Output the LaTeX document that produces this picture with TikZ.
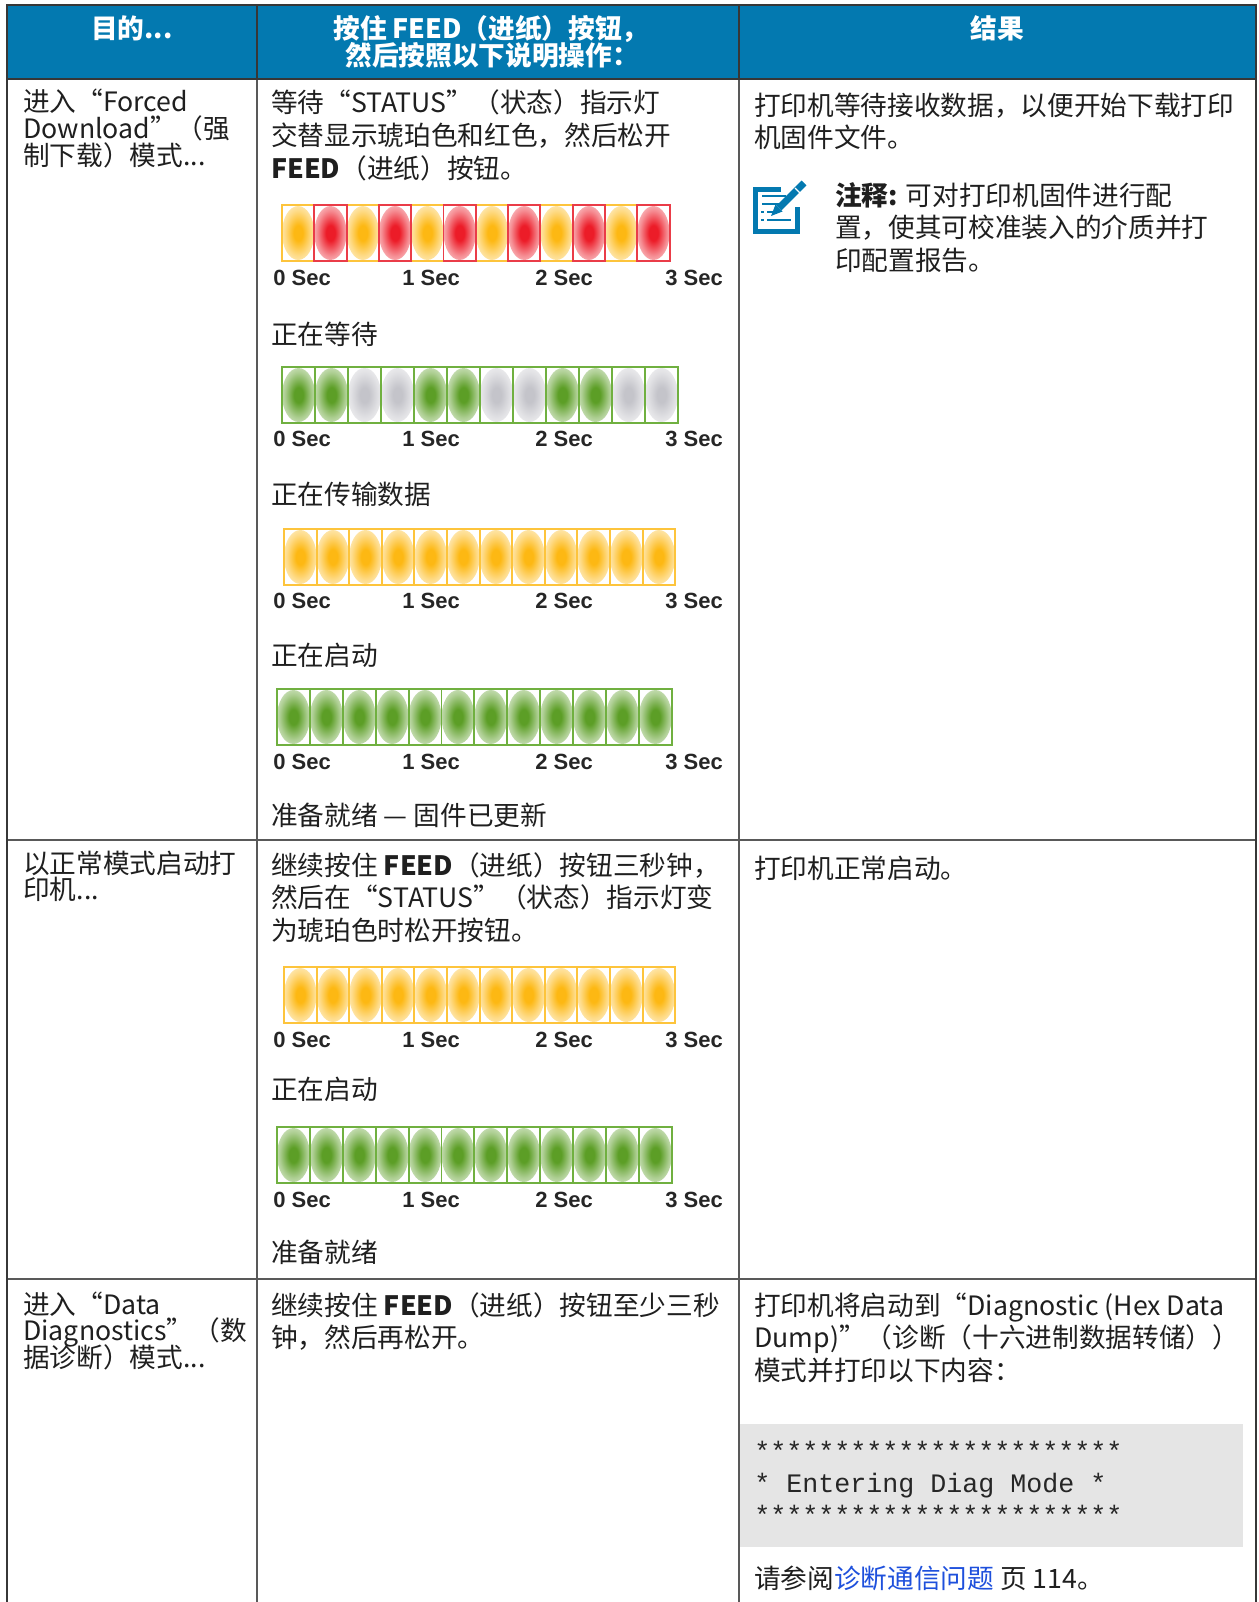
\documentclass[tikz,border=0pt]{standalone}
\usepackage{fontspec}
\setmainfont{Noto Sans CJK SC}
\newfontfamily\secfont{Liberation Sans}
\newfontfamily\codefont{Liberation Mono}
\newcommand{\tdots}{...}
\definecolor{hdrblue}{RGB}{3,121,176}
\definecolor{ledamber}{RGB}{253,184,19}
\definecolor{ledred}{RGB}{236,28,40}
\definecolor{ledgreen}{RGB}{92,158,38}
\definecolor{ledgray}{RGB}{196,196,202}
\definecolor{amberline}{RGB}{253,196,60}
\definecolor{redline}{RGB}{234,60,72}
\definecolor{greenline}{RGB}{112,176,64}
\definecolor{codegray}{RGB}{229,229,229}
\definecolor{linkblue}{RGB}{30,80,220}
\definecolor{ruleline}{RGB}{55,55,55}
\colorlet{ledc}{ledamber}
\pgfdeclareradialshading[ledc]{ledglow}{\pgfpoint{0bp}{0bp}}{color(0bp)=(ledc);color(7bp)=(ledc);color(21bp)=(ledc!50!white);color(39bp)=(white);color(50bp)=(white)}
\tikzset{
  txt/.style={anchor=base west,inner sep=0pt,text=black!88,font=\fontsize{20}{24}\selectfont},
  head/.style={anchor=base,inner sep=0pt,text=white,font=\fontsize{20}{24}\selectfont\bfseries},
  secs/.style={anchor=base west,inner sep=0pt,text=black!85,font=\secfont\fontsize{16.5}{20}\selectfont\bfseries},
  code/.style={anchor=base west,inner sep=0pt,text=black!85,font=\codefont\fontsize{20}{24}\selectfont},
}
\begin{document}
\begin{tikzpicture}[x=0.75pt,y=-0.75pt]
  \useasboundingbox (0,0) rectangle (1258,1602);
  \def\ledrow(#1,#2)[#3]#4{%
    \foreach \g/\b [count=\i from 0] in {#4}{
      \colorlet{ledc}{\g}
      \shade[shading=ledglow] ({#1+(\i+0.5)*#3},#2+28) ellipse ({0.5*#3} and 27);
    }
    \foreach \g/\b [count=\i from 0] in {#4}{
      \ifodd\i\else\draw[\b,line width=1.4pt] ({#1+\i*#3},#2) rectangle +(#3,56);\fi
    }
    \foreach \g/\b [count=\i from 0] in {#4}{
      \ifodd\i\draw[\b,line width=1.4pt] ({#1+\i*#3},#2) rectangle +(#3,56);\fi
    }
  }
  \def\secrow(#1)[#2]{%
    \foreach \s/\x in {0/273,1/402,2/535,3/665}
      \node[secs] (#2-\s) at (\x,#1) {\s\ Sec};
  }
  \def\celltext(#1,#2,#3)[#4]#5{%
    \foreach \t [count=\k from 0] in {#5}
      \node[txt] (#4-\k) at (#1,{#2+\k*#3}) {\t};
  }

  % table
  \fill[hdrblue] (7,5) rectangle (1256,79);
  \fill[codegray] (740,1424) rectangle (1243,1547);
  \draw[gray!70!black,line width=1.1pt] (7,840) -- (1256,840) (7,1279) -- (1256,1279)
    (257,79) -- (257,1602) (739,79) -- (739,1602);
  \draw[ruleline,line width=1.3pt] (257,5) -- (257,79) (739,5) -- (739,79) (7,79) -- (1256,79);
  \draw[ruleline,line width=1.6pt] (7,1602) -- (7,5) -- (1256,5) -- (1256,1602);

  \node[head] (goal) at (132,39) {目的\tdots};
  \node[head] (act1) at (491,39) {按住 FEED（进纸）按钮，};
  \node[head] (act2) at (492,66) {然后按照以下说明操作：};
  \node[head] (res) at (997,39) {结果};

  % forced download
  \celltext(23,112,26.5)[goalA]{进入“Forced, Download”（强, 制下载）模式\tdots}
  \celltext(271,113,32.5)[actA]{等待“STATUS”（状态）指示灯, 交替显示琥珀色和红色，然后松开, {\textbf{FEED}（进纸）按钮。}}
  \ledrow(282,205)[32.3]{ledamber/amberline,ledred/redline,ledamber/amberline,ledred/redline,
    ledamber/amberline,ledred/redline,ledamber/amberline,ledred/redline,
    ledamber/amberline,ledred/redline,ledamber/amberline,ledred/redline}
  \secrow(285)[tA]
  \node[txt] (waitA) at (271,344) {正在等待};
  \ledrow(282,367)[33]{ledgreen/greenline,ledgreen/greenline,ledgray/greenline,ledgray/greenline,
    ledgreen/greenline,ledgreen/greenline,ledgray/greenline,ledgray/greenline,
    ledgreen/greenline,ledgreen/greenline,ledgray/greenline,ledgray/greenline}
  \secrow(446)[tB]
  \node[txt] (xferA) at (271,504) {正在传输数据};
  \ledrow(284,529)[32.6]{ledamber/amberline,ledamber/amberline,ledamber/amberline,ledamber/amberline,
    ledamber/amberline,ledamber/amberline,ledamber/amberline,ledamber/amberline,
    ledamber/amberline,ledamber/amberline,ledamber/amberline,ledamber/amberline}
  \secrow(608)[tC]
  \node[txt] (bootA) at (271,665) {正在启动};
  \ledrow(277,689)[32.9]{ledgreen/greenline,ledgreen/greenline,ledgreen/greenline,ledgreen/greenline,
    ledgreen/greenline,ledgreen/greenline,ledgreen/greenline,ledgreen/greenline,
    ledgreen/greenline,ledgreen/greenline,ledgreen/greenline,ledgreen/greenline}
  \secrow(769)[tD]
  \node[txt] (readyA) at (271,825) {准备就绪 — 固件已更新};
  \celltext(754,115,32.5)[resA]{打印机等待接收数据，以便开始下载打印, 机固件文件。}

  % note icon
  \draw[hdrblue,line width=3.6pt] (781,189.5) -- (755.5,189.5) -- (755.5,231.5) -- (797.5,231.5) -- (797.5,207);
  \draw[hdrblue,line width=1.8pt] (762,196) -- (786,196) (762,204) -- (781,204)
    (767,212) -- (774,212) (767,220) -- (791,220) (761,212) -- (763.5,212) (761,220) -- (763.5,220);
  \draw[hdrblue,line width=5.2pt] (804,183) -- (779,208);
  \fill[hdrblue] (775.5,204.5) -- (782.5,211.5) -- (771,216) -- cycle;
  \draw[white,line width=1pt] (795,188) -- (801,194);
  \celltext(835,205,32.5)[noteA]{{\textbf{注释:} 可对打印机固件进行配}, 置，使其可校准装入的介质并打, 印配置报告。}

  % normal mode
  \celltext(23,873,26.5)[goalB]{以正常模式启动打, 印机\tdots}
  \celltext(271,875,32.5)[actB]{{继续按住 \textbf{FEED}（进纸）按钮三秒钟，}, 然后在“STATUS”（状态）指示灯变, 为琥珀色时松开按钮。}
  \ledrow(284,967)[32.6]{ledamber/amberline,ledamber/amberline,ledamber/amberline,ledamber/amberline,
    ledamber/amberline,ledamber/amberline,ledamber/amberline,ledamber/amberline,
    ledamber/amberline,ledamber/amberline,ledamber/amberline,ledamber/amberline}
  \secrow(1047)[tE]
  \node[txt] (bootB) at (271,1099) {正在启动};
  \ledrow(277,1127)[32.9]{ledgreen/greenline,ledgreen/greenline,ledgreen/greenline,ledgreen/greenline,
    ledgreen/greenline,ledgreen/greenline,ledgreen/greenline,ledgreen/greenline,
    ledgreen/greenline,ledgreen/greenline,ledgreen/greenline,ledgreen/greenline}
  \secrow(1207)[tF]
  \node[txt] (readyB) at (271,1262) {准备就绪};
  \node[txt] (resB) at (754,878) {打印机正常启动。};

  % data diagnostics
  \celltext(23,1314,26.5)[goalC]{进入“Data, Diagnostics”（数, 据诊断）模式\tdots}
  \celltext(271,1315,32.5)[actC]{{继续按住 \textbf{FEED}（进纸）按钮至少三秒}, 钟，然后再松开。}
  \celltext(754,1315,32.5)[resC]{打印机将启动到“Diagnostic (Hex Data, Dump)”（诊断（十六进制数据转储））, 模式并打印以下内容：}
  \node[code] (dumpA) at (754,1460) {***********************};
  \node[code] (dumpB) at (754,1492) {* Entering Diag Mode *};
  \node[code] (dumpC) at (754,1524) {***********************};
  \node[txt] (seeC) at (754,1588) {请参阅\textcolor{linkblue}{诊断通信问题} 页 114。};
\end{tikzpicture}
\end{document}
